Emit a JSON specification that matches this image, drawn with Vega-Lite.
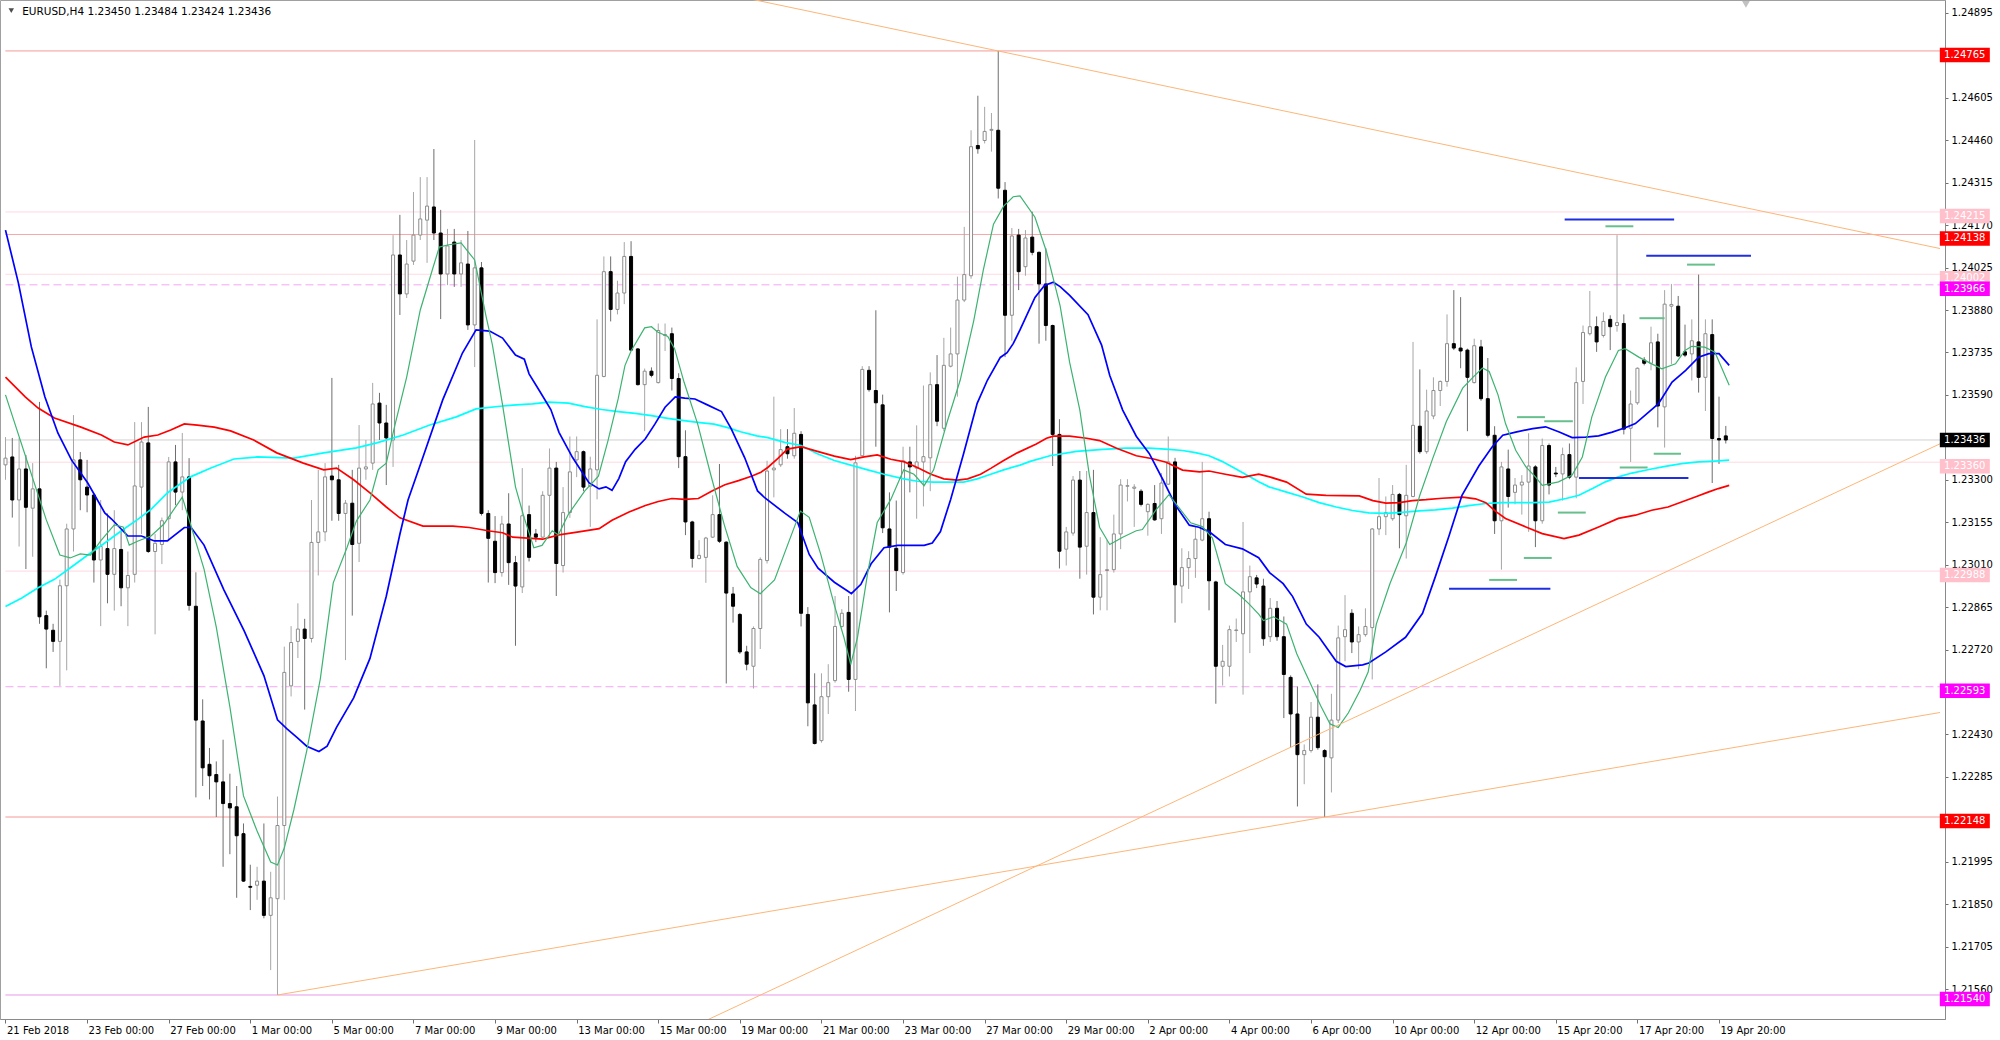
{
"$schema":"https://vega.github.io/schema/vega-lite/v6.json",
"width":1945,"height":1019,
"autosize":{"type":"none"},
"padding":{"left":0,"top":0,"right":55,"bottom":21},
"background":"white",
"config":{"view":{"stroke":"#a0a0a0","strokeWidth":1},"font":"DejaVu Sans",
"axis":{"labelFont":"DejaVu Sans","labelFontSize":10,"labelColor":"#000000","tickColor":"#707070","domainColor":"#8a8a8a","grid":false}},
"datasets":{
"levels":[{"p":1.24765,"t":"r"},{"p":1.24215,"t":"p"},{"p":1.24138,"t":"r"},{"p":1.24002,"t":"p"},{"p":1.23966,"t":"d"},{"p":1.23436,"t":"b"},{"p":1.2336,"t":"p"},{"p":1.22988,"t":"p"},{"p":1.22593,"t":"d"},{"p":1.22148,"t":"r"},{"p":1.2154,"t":"m"}],
"candles":[
{"i":0,"o":1.23351,"h":1.23446,"l":1.23300,"c":1.23374},
{"i":1,"o":1.23378,"h":1.23443,"l":1.23171,"c":1.23231},
{"i":2,"o":1.23231,"h":1.23443,"l":1.23072,"c":1.23337},
{"i":3,"o":1.23337,"h":1.23385,"l":1.22995,"c":1.23206},
{"i":4,"o":1.23203,"h":1.23357,"l":1.23037,"c":1.23269},
{"i":5,"o":1.23269,"h":1.23566,"l":1.22808,"c":1.22832},
{"i":6,"o":1.22836,"h":1.22853,"l":1.22656,"c":1.22790},
{"i":7,"o":1.22786,"h":1.22808,"l":1.22712,"c":1.22748},
{"i":8,"o":1.22748,"h":1.22959,"l":1.22596,"c":1.22938},
{"i":9,"o":1.22938,"h":1.23150,"l":1.22649,"c":1.23132},
{"i":10,"o":1.23132,"h":1.23521,"l":1.23055,"c":1.23368},
{"i":11,"o":1.23368,"h":1.23395,"l":1.23196,"c":1.23300},
{"i":12,"o":1.23275,"h":1.23368,"l":1.23189,"c":1.23248},
{"i":13,"o":1.23248,"h":1.23255,"l":1.22949,"c":1.23026},
{"i":14,"o":1.23026,"h":1.23231,"l":1.22800,"c":1.23072},
{"i":15,"o":1.23065,"h":1.23185,"l":1.22878,"c":1.22977},
{"i":16,"o":1.22977,"h":1.23196,"l":1.22853,"c":1.23065},
{"i":17,"o":1.23062,"h":1.23125,"l":1.22868,"c":1.22931},
{"i":18,"o":1.22931,"h":1.23055,"l":1.22800,"c":1.22973},
{"i":19,"o":1.22977,"h":1.23497,"l":1.22949,"c":1.23279},
{"i":20,"o":1.23275,"h":1.23497,"l":1.23115,"c":1.23429},
{"i":21,"o":1.23426,"h":1.23549,"l":1.23050,"c":1.23055},
{"i":22,"o":1.23055,"h":1.23115,"l":1.22772,"c":1.23083},
{"i":23,"o":1.23079,"h":1.23171,"l":1.23012,"c":1.23160},
{"i":24,"o":1.23167,"h":1.23378,"l":1.23090,"c":1.23361},
{"i":25,"o":1.23361,"h":1.23419,"l":1.23213,"c":1.23258},
{"i":26,"o":1.23258,"h":1.23460,"l":1.23196,"c":1.23310},
{"i":27,"o":1.23310,"h":1.23374,"l":1.22853,"c":1.22871},
{"i":28,"o":1.22868,"h":1.22984,"l":1.22215,"c":1.22479},
{"i":29,"o":1.22476,"h":1.22550,"l":1.22254,"c":1.22316},
{"i":30,"o":1.22328,"h":1.22384,"l":1.22208,"c":1.22289},
{"i":31,"o":1.22293,"h":1.22338,"l":1.22148,"c":1.22268},
{"i":32,"o":1.22268,"h":1.22412,"l":1.21978,"c":1.22194},
{"i":33,"o":1.22194,"h":1.22296,"l":1.22021,"c":1.22179},
{"i":34,"o":1.22183,"h":1.22254,"l":1.21872,"c":1.22084},
{"i":35,"o":1.22091,"h":1.22126,"l":1.21926,"c":1.21929},
{"i":36,"o":1.21911,"h":1.21985,"l":1.21830,"c":1.21908},
{"i":37,"o":1.21915,"h":1.21978,"l":1.21865,"c":1.21929},
{"i":38,"o":1.21929,"h":1.22126,"l":1.21802,"c":1.21812},
{"i":39,"o":1.21812,"h":1.21961,"l":1.21625,"c":1.21872},
{"i":40,"o":1.21869,"h":1.22218,"l":1.21540,"c":1.22119},
{"i":41,"o":1.22119,"h":1.22730,"l":1.21865,"c":1.22642},
{"i":42,"o":1.22596,"h":1.22800,"l":1.22560,"c":1.22744},
{"i":43,"o":1.22748,"h":1.22878,"l":1.22691,"c":1.22790},
{"i":44,"o":1.22790,"h":1.22825,"l":1.22515,"c":1.22758},
{"i":45,"o":1.22758,"h":1.23231,"l":1.22744,"c":1.23086},
{"i":46,"o":1.23086,"h":1.23334,"l":1.22973,"c":1.23122},
{"i":47,"o":1.23122,"h":1.23357,"l":1.23090,"c":1.23310},
{"i":48,"o":1.23313,"h":1.23648,"l":1.23160,"c":1.23300},
{"i":49,"o":1.23300,"h":1.23351,"l":1.23160,"c":1.23185},
{"i":50,"o":1.23185,"h":1.23231,"l":1.22684,"c":1.23220},
{"i":51,"o":1.23220,"h":1.23334,"l":1.22836,"c":1.23079},
{"i":52,"o":1.23083,"h":1.23487,"l":1.23019,"c":1.23340},
{"i":53,"o":1.23337,"h":1.23436,"l":1.23300,"c":1.23344},
{"i":54,"o":1.23357,"h":1.23631,"l":1.23334,"c":1.23559},
{"i":55,"o":1.23562,"h":1.23597,"l":1.23436,"c":1.23494},
{"i":56,"o":1.23494,"h":1.23556,"l":1.23282,"c":1.23443},
{"i":57,"o":1.23436,"h":1.24136,"l":1.23344,"c":1.24068},
{"i":58,"o":1.24068,"h":1.24205,"l":1.23863,"c":1.23935},
{"i":59,"o":1.23935,"h":1.24119,"l":1.23921,"c":1.24037},
{"i":60,"o":1.24047,"h":1.24283,"l":1.24034,"c":1.24136},
{"i":61,"o":1.24136,"h":1.24334,"l":1.24119,"c":1.24191},
{"i":62,"o":1.24187,"h":1.24334,"l":1.24041,"c":1.24235},
{"i":63,"o":1.24232,"h":1.24430,"l":1.24119,"c":1.24143},
{"i":64,"o":1.24143,"h":1.24222,"l":1.23849,"c":1.24003},
{"i":65,"o":1.24003,"h":1.24157,"l":1.23965,"c":1.24099},
{"i":66,"o":1.24112,"h":1.24157,"l":1.23959,"c":1.24003},
{"i":67,"o":1.24003,"h":1.24119,"l":1.23959,"c":1.24041},
{"i":68,"o":1.24037,"h":1.24150,"l":1.23812,"c":1.23829},
{"i":69,"o":1.23829,"h":1.24461,"l":1.23685,"c":1.24024},
{"i":70,"o":1.24024,"h":1.24044,"l":1.23178,"c":1.23185},
{"i":71,"o":1.23185,"h":1.23196,"l":1.22949,"c":1.23100},
{"i":72,"o":1.23090,"h":1.23176,"l":1.22947,"c":1.22983},
{"i":73,"o":1.22983,"h":1.23177,"l":1.22969,"c":1.23149},
{"i":74,"o":1.23149,"h":1.23254,"l":1.22941,"c":1.23017},
{"i":75,"o":1.23017,"h":1.23040,"l":1.22733,"c":1.22937},
{"i":76,"o":1.22934,"h":1.23340,"l":1.22913,"c":1.23177},
{"i":77,"o":1.23181,"h":1.23212,"l":1.23021,"c":1.23035},
{"i":78,"o":1.23115,"h":1.23132,"l":1.23087,"c":1.23104},
{"i":79,"o":1.23104,"h":1.23261,"l":1.23101,"c":1.23247},
{"i":80,"o":1.23247,"h":1.23407,"l":1.23104,"c":1.23340},
{"i":81,"o":1.23340,"h":1.23361,"l":1.22903,"c":1.23014},
{"i":82,"o":1.23007,"h":1.23275,"l":1.22983,"c":1.23188},
{"i":83,"o":1.23188,"h":1.23448,"l":1.23170,"c":1.23327},
{"i":84,"o":1.23368,"h":1.23448,"l":1.23309,"c":1.23396},
{"i":85,"o":1.23396,"h":1.23400,"l":1.23261,"c":1.23275},
{"i":86,"o":1.23278,"h":1.23379,"l":1.23139,"c":1.23337},
{"i":87,"o":1.23334,"h":1.23848,"l":1.23233,"c":1.23657},
{"i":88,"o":1.23653,"h":1.24063,"l":1.23650,"c":1.24011},
{"i":89,"o":1.24011,"h":1.24063,"l":1.23841,"c":1.23882},
{"i":90,"o":1.23882,"h":1.23980,"l":1.23865,"c":1.23938},
{"i":91,"o":1.23938,"h":1.24112,"l":1.23900,"c":1.24063},
{"i":92,"o":1.24063,"h":1.24115,"l":1.23740,"c":1.23743},
{"i":93,"o":1.23747,"h":1.23750,"l":1.23622,"c":1.23625},
{"i":94,"o":1.23625,"h":1.23680,"l":1.23466,"c":1.23671},
{"i":95,"o":1.23671,"h":1.23684,"l":1.23650,"c":1.23657},
{"i":96,"o":1.23632,"h":1.23834,"l":1.23629,"c":1.23810},
{"i":97,"o":1.23793,"h":1.23834,"l":1.23740,"c":1.23796},
{"i":98,"o":1.23799,"h":1.23820,"l":1.23605,"c":1.23646},
{"i":99,"o":1.23646,"h":1.23664,"l":1.23340,"c":1.23379},
{"i":100,"o":1.23379,"h":1.23469,"l":1.23111,"c":1.23156},
{"i":101,"o":1.23156,"h":1.23160,"l":1.23000,"c":1.23031},
{"i":102,"o":1.23031,"h":1.23094,"l":1.23028,"c":1.23042},
{"i":103,"o":1.23035,"h":1.23105,"l":1.22948,"c":1.23101},
{"i":104,"o":1.23104,"h":1.23247,"l":1.23101,"c":1.23181},
{"i":105,"o":1.23181,"h":1.23354,"l":1.23084,"c":1.23090},
{"i":106,"o":1.23087,"h":1.23090,"l":1.22604,"c":1.22913},
{"i":107,"o":1.22910,"h":1.22934,"l":1.22812,"c":1.22868},
{"i":108,"o":1.22840,"h":1.22845,"l":1.22705,"c":1.22712},
{"i":109,"o":1.22712,"h":1.22733,"l":1.22649,"c":1.22670},
{"i":110,"o":1.22663,"h":1.22799,"l":1.22587,"c":1.22792},
{"i":111,"o":1.22792,"h":1.23035,"l":1.22722,"c":1.23028},
{"i":112,"o":1.23024,"h":1.23365,"l":1.23014,"c":1.23330},
{"i":113,"o":1.23334,"h":1.23584,"l":1.23240,"c":1.23340},
{"i":114,"o":1.23351,"h":1.23473,"l":1.23344,"c":1.23403},
{"i":115,"o":1.23413,"h":1.23473,"l":1.23372,"c":1.23389},
{"i":116,"o":1.23382,"h":1.23545,"l":1.23372,"c":1.23459},
{"i":117,"o":1.23455,"h":1.23466,"l":1.22799,"c":1.22844},
{"i":118,"o":1.22840,"h":1.22865,"l":1.22458,"c":1.22538},
{"i":119,"o":1.22531,"h":1.22639,"l":1.22396,"c":1.22399},
{"i":120,"o":1.22409,"h":1.22639,"l":1.22402,"c":1.22559},
{"i":121,"o":1.22559,"h":1.22670,"l":1.22500,"c":1.22607},
{"i":122,"o":1.22614,"h":1.22903,"l":1.22607,"c":1.22799},
{"i":123,"o":1.22799,"h":1.22858,"l":1.22795,"c":1.22844},
{"i":124,"o":1.22847,"h":1.22903,"l":1.22576,"c":1.22618},
{"i":125,"o":1.22618,"h":1.23382,"l":1.22510,"c":1.23358},
{"i":126,"o":1.23382,"h":1.23688,"l":1.23379,"c":1.23677},
{"i":127,"o":1.23674,"h":1.23688,"l":1.23601,"c":1.23608},
{"i":128,"o":1.23605,"h":1.23879,"l":1.23413,"c":1.23563},
{"i":129,"o":1.23556,"h":1.23591,"l":1.23118,"c":1.23136},
{"i":130,"o":1.23132,"h":1.23257,"l":1.22847,"c":1.23070},
{"i":131,"o":1.23066,"h":1.23229,"l":1.22920,"c":1.22990},
{"i":132,"o":1.22983,"h":1.23413,"l":1.22976,"c":1.23365},
{"i":133,"o":1.23361,"h":1.23413,"l":1.23257,"c":1.23344},
{"i":134,"o":1.23340,"h":1.23486,"l":1.23167,"c":1.23361},
{"i":135,"o":1.23361,"h":1.23622,"l":1.23209,"c":1.23379},
{"i":136,"o":1.23375,"h":1.23667,"l":1.23261,"c":1.23625},
{"i":137,"o":1.23625,"h":1.23726,"l":1.23483,"c":1.23500},
{"i":138,"o":1.23476,"h":1.23785,"l":1.23466,"c":1.23691},
{"i":139,"o":1.23688,"h":1.23820,"l":1.23684,"c":1.23730},
{"i":140,"o":1.23730,"h":1.23994,"l":1.23584,"c":1.23914},
{"i":141,"o":1.23914,"h":1.24164,"l":1.23907,"c":1.24001},
{"i":142,"o":1.23997,"h":1.24494,"l":1.23987,"c":1.24438},
{"i":143,"o":1.24442,"h":1.24612,"l":1.24414,"c":1.24431},
{"i":144,"o":1.24459,"h":1.24574,"l":1.24449,"c":1.24490},
{"i":145,"o":1.24494,"h":1.24553,"l":1.24421,"c":1.24497},
{"i":146,"o":1.24494,"h":1.24765,"l":1.24261,"c":1.24296},
{"i":147,"o":1.24289,"h":1.24317,"l":1.23719,"c":1.23862},
{"i":148,"o":1.23862,"h":1.24160,"l":1.23775,"c":1.24133},
{"i":149,"o":1.24136,"h":1.24157,"l":1.23948,"c":1.24011},
{"i":150,"o":1.24028,"h":1.24153,"l":1.23997,"c":1.24126},
{"i":151,"o":1.24129,"h":1.24216,"l":1.24067,"c":1.24077},
{"i":152,"o":1.24077,"h":1.24080,"l":1.23765,"c":1.23969},
{"i":153,"o":1.23969,"h":1.24091,"l":1.23775,"c":1.23827},
{"i":154,"o":1.23827,"h":1.23830,"l":1.23347,"c":1.23455},
{"i":155,"o":1.23455,"h":1.23507,"l":1.22997,"c":1.23056},
{"i":156,"o":1.23063,"h":1.23139,"l":1.23007,"c":1.23122},
{"i":157,"o":1.23118,"h":1.23313,"l":1.23109,"c":1.23299},
{"i":158,"o":1.23299,"h":1.23330,"l":1.22962,"c":1.23070},
{"i":159,"o":1.23073,"h":1.23330,"l":1.22976,"c":1.23188},
{"i":160,"o":1.23188,"h":1.23334,"l":1.22840,"c":1.22899},
{"i":161,"o":1.22899,"h":1.23104,"l":1.22854,"c":1.22976},
{"i":162,"o":1.22990,"h":1.23094,"l":1.22854,"c":1.22993},
{"i":163,"o":1.22993,"h":1.23181,"l":1.22983,"c":1.23115},
{"i":164,"o":1.23115,"h":1.23302,"l":1.23063,"c":1.23282},
{"i":165,"o":1.23278,"h":1.23302,"l":1.23226,"c":1.23280},
{"i":166,"o":1.23271,"h":1.23285,"l":1.23139,"c":1.23275},
{"i":167,"o":1.23261,"h":1.23268,"l":1.23209,"c":1.23216},
{"i":168,"o":1.23191,"h":1.23220,"l":1.23109,"c":1.23216},
{"i":169,"o":1.23219,"h":1.23282,"l":1.23160,"c":1.23163},
{"i":170,"o":1.23167,"h":1.23323,"l":1.23115,"c":1.23289},
{"i":171,"o":1.23285,"h":1.23448,"l":1.23282,"c":1.23361},
{"i":172,"o":1.23361,"h":1.23375,"l":1.22812,"c":1.22941},
{"i":173,"o":1.22937,"h":1.23066,"l":1.22878,"c":1.23000},
{"i":174,"o":1.23000,"h":1.23056,"l":1.22927,"c":1.23031},
{"i":175,"o":1.23031,"h":1.23139,"l":1.22965,"c":1.23097},
{"i":176,"o":1.23094,"h":1.23361,"l":1.23090,"c":1.23167},
{"i":177,"o":1.23167,"h":1.23191,"l":1.22854,"c":1.22955},
{"i":178,"o":1.22951,"h":1.22955,"l":1.22535,"c":1.22663},
{"i":179,"o":1.22663,"h":1.22736,"l":1.22597,"c":1.22680},
{"i":180,"o":1.22663,"h":1.22802,"l":1.22628,"c":1.22788},
{"i":181,"o":1.22785,"h":1.22826,"l":1.22746,"c":1.22787},
{"i":182,"o":1.22774,"h":1.23156,"l":1.22566,"c":1.22917},
{"i":183,"o":1.22917,"h":1.23007,"l":1.22708,"c":1.22969},
{"i":184,"o":1.22965,"h":1.22975,"l":1.22930,"c":1.22944},
{"i":185,"o":1.22937,"h":1.22962,"l":1.22733,"c":1.22757},
{"i":186,"o":1.22764,"h":1.22896,"l":1.22746,"c":1.22861},
{"i":187,"o":1.22861,"h":1.22886,"l":1.22750,"c":1.22764},
{"i":188,"o":1.22764,"h":1.22833,"l":1.22486,"c":1.22635},
{"i":189,"o":1.22625,"h":1.22632,"l":1.22385,"c":1.22500},
{"i":190,"o":1.22500,"h":1.22594,"l":1.22184,"c":1.22361},
{"i":191,"o":1.22361,"h":1.22396,"l":1.22260,"c":1.22375},
{"i":192,"o":1.22375,"h":1.22541,"l":1.22368,"c":1.22489},
{"i":193,"o":1.22489,"h":1.22601,"l":1.22378,"c":1.22385},
{"i":194,"o":1.22375,"h":1.22380,"l":1.22148,"c":1.22354},
{"i":195,"o":1.22350,"h":1.22569,"l":1.22232,"c":1.22479},
{"i":196,"o":1.22479,"h":1.22802,"l":1.22469,"c":1.22760},
{"i":197,"o":1.22764,"h":1.22906,"l":1.22680,"c":1.22788},
{"i":198,"o":1.22844,"h":1.22858,"l":1.22708,"c":1.22746},
{"i":199,"o":1.22746,"h":1.22799,"l":1.22653,"c":1.22771},
{"i":200,"o":1.22771,"h":1.22861,"l":1.22764,"c":1.22799},
{"i":201,"o":1.22795,"h":1.23135,"l":1.22618,"c":1.23132},
{"i":202,"o":1.23132,"h":1.23306,"l":1.23111,"c":1.23174},
{"i":203,"o":1.23174,"h":1.23243,"l":1.23111,"c":1.23188},
{"i":204,"o":1.23167,"h":1.23282,"l":1.23160,"c":1.23250},
{"i":205,"o":1.23250,"h":1.23255,"l":1.23066,"c":1.23181},
{"i":206,"o":1.23177,"h":1.23351,"l":1.23031,"c":1.23247},
{"i":207,"o":1.23243,"h":1.23771,"l":1.23240,"c":1.23486},
{"i":208,"o":1.23483,"h":1.23677,"l":1.23389,"c":1.23396},
{"i":209,"o":1.23396,"h":1.23608,"l":1.23389,"c":1.23535},
{"i":210,"o":1.23518,"h":1.23650,"l":1.23507,"c":1.23605},
{"i":211,"o":1.23605,"h":1.23639,"l":1.23552,"c":1.23636},
{"i":212,"o":1.23636,"h":1.23865,"l":1.23618,"c":1.23765},
{"i":213,"o":1.23765,"h":1.23948,"l":1.23743,"c":1.23750},
{"i":214,"o":1.23750,"h":1.23924,"l":1.23681,"c":1.23740},
{"i":215,"o":1.23743,"h":1.23748,"l":1.23466,"c":1.23650},
{"i":216,"o":1.23632,"h":1.23782,"l":1.23629,"c":1.23758},
{"i":217,"o":1.23754,"h":1.23778,"l":1.23570,"c":1.23577},
{"i":218,"o":1.23577,"h":1.23716,"l":1.23445,"c":1.23452},
{"i":219,"o":1.23452,"h":1.23483,"l":1.23115,"c":1.23160},
{"i":220,"o":1.23160,"h":1.23361,"l":1.22993,"c":1.23344},
{"i":221,"o":1.23337,"h":1.23403,"l":1.23205,"c":1.23243},
{"i":222,"o":1.23257,"h":1.23306,"l":1.23216,"c":1.23282},
{"i":223,"o":1.23282,"h":1.23316,"l":1.23181,"c":1.23292},
{"i":224,"o":1.23292,"h":1.23459,"l":1.23122,"c":1.23347},
{"i":225,"o":1.23344,"h":1.23350,"l":1.23070,"c":1.23160},
{"i":226,"o":1.23160,"h":1.23441,"l":1.23150,"c":1.23417},
{"i":227,"o":1.23417,"h":1.23424,"l":1.23250,"c":1.23282},
{"i":228,"o":1.23323,"h":1.23344,"l":1.23309,"c":1.23320},
{"i":229,"o":1.23320,"h":1.23410,"l":1.23229,"c":1.23386},
{"i":230,"o":1.23386,"h":1.23424,"l":1.23302,"c":1.23309},
{"i":231,"o":1.23309,"h":1.23684,"l":1.23237,"c":1.23632},
{"i":232,"o":1.23636,"h":1.23827,"l":1.23559,"c":1.23803},
{"i":233,"o":1.23799,"h":1.23945,"l":1.23793,"c":1.23823},
{"i":234,"o":1.23823,"h":1.23858,"l":1.23737,"c":1.23771},
{"i":235,"o":1.23793,"h":1.23872,"l":1.23786,"c":1.23841},
{"i":236,"o":1.23848,"h":1.23862,"l":1.23743,"c":1.23823},
{"i":237,"o":1.23827,"h":1.24136,"l":1.23806,"c":1.23837},
{"i":238,"o":1.23834,"h":1.23865,"l":1.23455,"c":1.23473},
{"i":239,"o":1.23476,"h":1.23605,"l":1.23361,"c":1.23559},
{"i":240,"o":1.23563,"h":1.23684,"l":1.23556,"c":1.23681},
{"i":241,"o":1.23709,"h":1.23719,"l":1.23691,"c":1.23698},
{"i":242,"o":1.23698,"h":1.23823,"l":1.23674,"c":1.23768},
{"i":243,"o":1.23771,"h":1.23799,"l":1.23479,"c":1.23552},
{"i":244,"o":1.23549,"h":1.23948,"l":1.23410,"c":1.23900},
{"i":245,"o":1.23893,"h":1.23969,"l":1.23695,"c":1.23899},
{"i":246,"o":1.23893,"h":1.23928,"l":1.23719,"c":1.23723},
{"i":247,"o":1.23737,"h":1.23830,"l":1.23719,"c":1.23726},
{"i":248,"o":1.23730,"h":1.23848,"l":1.23639,"c":1.23775},
{"i":249,"o":1.23771,"h":1.24001,"l":1.23598,"c":1.23650},
{"i":250,"o":1.23650,"h":1.23848,"l":1.23535,"c":1.23799},
{"i":251,"o":1.23796,"h":1.23848,"l":1.23289,"c":1.23441},
{"i":252,"o":1.23441,"h":1.23584,"l":1.23354,"c":1.23436},
{"i":253,"o":1.23450,"h":1.23484,"l":1.23424,"c":1.23436}
],
"green":[{"i":0,"v":1.23590},{"i":6,"v":1.23163},{"i":8,"v":1.23043},{"i":9.5,"v":1.23033},{"i":11,"v":1.23047},{"i":12.5,"v":1.23043},{"i":14,"v":1.23091},{"i":16,"v":1.23146},{"i":17.3,"v":1.23139},{"i":18.2,"v":1.23077},{"i":19.5,"v":1.23091},{"i":21.4,"v":1.23108},{"i":23.3,"v":1.23149},{"i":26,"v":1.23241},{"i":27.2,"v":1.23149},{"i":29.2,"v":1.22995},{"i":31,"v":1.22797},{"i":33,"v":1.22524},{"i":35,"v":1.22220},{"i":37,"v":1.22100},{"i":39,"v":1.21994},{"i":40,"v":1.21984},{"i":41,"v":1.22042},{"i":42.4,"v":1.22172},{"i":44.3,"v":1.22374},{"i":46.3,"v":1.22620},{"i":48.2,"v":1.22948},{"i":50.2,"v":1.23067},{"i":51.6,"v":1.23159},{"i":53.6,"v":1.23231},{"i":54.8,"v":1.23334},{"i":56,"v":1.23357},{"i":57.2,"v":1.23480},{"i":59,"v":1.23651},{"i":61,"v":1.23880},{"i":62.9,"v":1.24027},{"i":63.8,"v":1.24095},{"i":65,"v":1.24102},{"i":67,"v":1.24109},{"i":69,"v":1.24051},{"i":70.7,"v":1.23856},{"i":71.6,"v":1.23762},{"i":73.1,"v":1.23556},{"i":75,"v":1.23276},{"i":76.3,"v":1.23169},{"i":77.7,"v":1.23068},{"i":78.9,"v":1.23076},{"i":80.4,"v":1.23126},{"i":81.3,"v":1.23112},{"i":82.8,"v":1.23183},{"i":85.2,"v":1.23262},{"i":87.2,"v":1.23312},{"i":88.6,"v":1.23433},{"i":90.1,"v":1.23576},{"i":91.1,"v":1.23690},{"i":92,"v":1.23740},{"i":94,"v":1.23819},{"i":95,"v":1.23823},{"i":95.9,"v":1.23805},{"i":97.4,"v":1.23790},{"i":98.4,"v":1.23748},{"i":99.8,"v":1.23633},{"i":101.8,"v":1.23490},{"i":103.7,"v":1.23319},{"i":105.7,"v":1.23147},{"i":107.6,"v":1.23004},{"i":109.6,"v":1.22932},{"i":111,"v":1.22911},{"i":113.1,"v":1.22958},{"i":115,"v":1.23076},{"i":116.9,"v":1.23193},{"i":118.2,"v":1.23172},{"i":119.9,"v":1.23045},{"i":121.9,"v":1.22872},{"i":123.3,"v":1.22762},{"i":124.3,"v":1.22669},{"i":125.3,"v":1.22762},{"i":126.8,"v":1.22982},{"i":128.2,"v":1.23154},{"i":130.2,"v":1.23233},{"i":132.1,"v":1.23334},{"i":133.6,"v":1.23319},{"i":135.1,"v":1.23280},{"i":136.5,"v":1.23334},{"i":138.5,"v":1.23499},{"i":140.4,"v":1.23640},{"i":142.4,"v":1.23844},{"i":143.8,"v":1.24016},{"i":145.3,"v":1.24173},{"i":146.8,"v":1.24235},{"i":148.2,"v":1.24267},{"i":149.2,"v":1.24270},{"i":151.4,"v":1.24197},{"i":153.1,"v":1.24079},{"i":155.1,"v":1.23894},{"i":156.5,"v":1.23701},{"i":158,"v":1.23538},{"i":159.4,"v":1.23316},{"i":160.9,"v":1.23138},{"i":162.4,"v":1.23079},{"i":164.3,"v":1.23104},{"i":166.3,"v":1.23126},{"i":167.2,"v":1.23130},{"i":169.2,"v":1.23197},{"i":171.1,"v":1.23249},{"i":172.6,"v":1.23204},{"i":174.3,"v":1.23153},{"i":176,"v":1.23140},{"i":177.5,"v":1.23101},{"i":179.4,"v":1.22945},{"i":181.4,"v":1.22908},{"i":182.8,"v":1.22878},{"i":184.3,"v":1.22841},{"i":185,"v":1.22819},{"i":186.5,"v":1.22832},{"i":188.4,"v":1.22807},{"i":189.9,"v":1.22706},{"i":191.4,"v":1.22630},{"i":193.4,"v":1.22529},{"i":194.8,"v":1.22466},{"i":196,"v":1.22454},{"i":197.5,"v":1.22504},{"i":199.2,"v":1.22580},{"i":200.4,"v":1.22643},{"i":201.6,"v":1.22807},{"i":203.6,"v":1.22945},{"i":206,"v":1.23084},{"i":208,"v":1.23247},{"i":209.9,"v":1.23373},{"i":211.9,"v":1.23499},{"i":214.3,"v":1.23613},{"i":215.8,"v":1.23650},{"i":217.2,"v":1.23682},{"i":218.2,"v":1.23670},{"i":219.5,"v":1.23590},{"i":220.6,"v":1.23492},{"i":222.1,"v":1.23401},{"i":223.6,"v":1.23344},{"i":225,"v":1.23310},{"i":226,"v":1.23281},{"i":228.4,"v":1.23293},{"i":230.4,"v":1.23316},{"i":231.9,"v":1.23378},{"i":233.3,"v":1.23515},{"i":235.3,"v":1.23651},{"i":237.2,"v":1.23742},{"i":238.2,"v":1.23748},{"i":240.2,"v":1.23719},{"i":242.1,"v":1.23696},{"i":243.6,"v":1.23679},{"i":245.6,"v":1.23696},{"i":247,"v":1.23742},{"i":248,"v":1.23756},{"i":249.9,"v":1.23753},{"i":251.4,"v":1.23736},{"i":253.5,"v":1.23623}],
"blue":[{"i":0,"v":1.24153},{"i":1.9,"v":1.23972},{"i":3.8,"v":1.23754},{"i":5.8,"v":1.23583},{"i":7.7,"v":1.23460},{"i":9.7,"v":1.23368},{"i":12.1,"v":1.23289},{"i":14.6,"v":1.23187},{"i":15.6,"v":1.23166},{"i":18,"v":1.23108},{"i":20,"v":1.23108},{"i":21.9,"v":1.23091},{"i":23.8,"v":1.23091},{"i":26.3,"v":1.23137},{"i":27.3,"v":1.23137},{"i":29.2,"v":1.23077},{"i":32.1,"v":1.22925},{"i":35.1,"v":1.22784},{"i":38,"v":1.22631},{"i":40,"v":1.22480},{"i":41.4,"v":1.22449},{"i":42.9,"v":1.22419},{"i":44.3,"v":1.22390},{"i":46.1,"v":1.22372},{"i":47.3,"v":1.22390},{"i":48.7,"v":1.22455},{"i":51.2,"v":1.22555},{"i":53.6,"v":1.22690},{"i":56,"v":1.22902},{"i":58,"v":1.23114},{"i":59.2,"v":1.23231},{"i":61.4,"v":1.23378},{"i":64.3,"v":1.23573},{"i":67.2,"v":1.23733},{"i":69.2,"v":1.23812},{"i":71.2,"v":1.23808},{"i":73.1,"v":1.23784},{"i":75,"v":1.23726},{"i":76.3,"v":1.23712},{"i":77,"v":1.23662},{"i":78.5,"v":1.23605},{"i":80.2,"v":1.23540},{"i":81.4,"v":1.23462},{"i":83.4,"v":1.23376},{"i":85.8,"v":1.23290},{"i":87.3,"v":1.23269},{"i":88.3,"v":1.23276},{"i":89.2,"v":1.23264},{"i":90.2,"v":1.23304},{"i":91.2,"v":1.23362},{"i":92.6,"v":1.23404},{"i":94.1,"v":1.23440},{"i":95.5,"v":1.23490},{"i":97,"v":1.23548},{"i":98.5,"v":1.23583},{"i":99.9,"v":1.23579},{"i":101.4,"v":1.23576},{"i":103.3,"v":1.23555},{"i":105.3,"v":1.23533},{"i":106.7,"v":1.23476},{"i":108.7,"v":1.23376},{"i":110.6,"v":1.23262},{"i":111.6,"v":1.23240},{"i":114.6,"v":1.23186},{"i":116.5,"v":1.23154},{"i":118.2,"v":1.23045},{"i":119.5,"v":1.22998},{"i":121.9,"v":1.22950},{"i":123.9,"v":1.22919},{"i":124.4,"v":1.22911},{"i":125.8,"v":1.22943},{"i":127.3,"v":1.23013},{"i":129.2,"v":1.23068},{"i":131.2,"v":1.23076},{"i":133.1,"v":1.23076},{"i":135.1,"v":1.23076},{"i":136.3,"v":1.23084},{"i":137.5,"v":1.23123},{"i":139,"v":1.23233},{"i":140.9,"v":1.23389},{"i":142.9,"v":1.23561},{"i":144.4,"v":1.23640},{"i":146.3,"v":1.23718},{"i":147.3,"v":1.23734},{"i":148.2,"v":1.23765},{"i":149.2,"v":1.23812},{"i":151.4,"v":1.23923},{"i":152.8,"v":1.23964},{"i":154.1,"v":1.23975},{"i":155.1,"v":1.23960},{"i":156.5,"v":1.23930},{"i":159.2,"v":1.23864},{"i":161.2,"v":1.23760},{"i":162.4,"v":1.23656},{"i":164.3,"v":1.23538},{"i":166.3,"v":1.23449},{"i":168.2,"v":1.23390},{"i":170.2,"v":1.23301},{"i":172.1,"v":1.23212},{"i":174.1,"v":1.23145},{"i":175.5,"v":1.23138},{"i":177,"v":1.23123},{"i":179.4,"v":1.23079},{"i":181.9,"v":1.23064},{"i":184.3,"v":1.23034},{"i":185.9,"v":1.22983},{"i":187.9,"v":1.22945},{"i":189.3,"v":1.22901},{"i":191.3,"v":1.22807},{"i":193.2,"v":1.22762},{"i":195.7,"v":1.22680},{"i":197.1,"v":1.22662},{"i":199.6,"v":1.22668},{"i":200.5,"v":1.22674},{"i":203,"v":1.22712},{"i":205.9,"v":1.22762},{"i":208.4,"v":1.22844},{"i":210.3,"v":1.22970},{"i":212.3,"v":1.23109},{"i":214.2,"v":1.23247},{"i":216.7,"v":1.23348},{"i":218.6,"v":1.23411},{"i":220.2,"v":1.23452},{"i":222.1,"v":1.23463},{"i":224.6,"v":1.23475},{"i":226.5,"v":1.23481},{"i":228.5,"v":1.23463},{"i":230.4,"v":1.23444},{"i":232.4,"v":1.23446},{"i":234.3,"v":1.23450},{"i":236.3,"v":1.23463},{"i":238.2,"v":1.23478},{"i":239.7,"v":1.23492},{"i":241.7,"v":1.23532},{"i":243.1,"v":1.23560},{"i":245.1,"v":1.23634},{"i":247.1,"v":1.23674},{"i":249,"v":1.23719},{"i":250.5,"v":1.23731},{"i":252,"v":1.23731},{"i":253.5,"v":1.23691}],
"red":[{"i":0,"v":1.23651},{"i":2.9,"v":1.23583},{"i":4.8,"v":1.23545},{"i":7.2,"v":1.23511},{"i":11.1,"v":1.23480},{"i":14.1,"v":1.23453},{"i":16,"v":1.23429},{"i":18,"v":1.23419},{"i":20.4,"v":1.23446},{"i":22.4,"v":1.23453},{"i":24.3,"v":1.23470},{"i":26.3,"v":1.23491},{"i":28.2,"v":1.23487},{"i":30.7,"v":1.23480},{"i":33.1,"v":1.23467},{"i":36.5,"v":1.23436},{"i":39.9,"v":1.23392},{"i":43.8,"v":1.23357},{"i":46.8,"v":1.23334},{"i":48.7,"v":1.23340},{"i":51.2,"v":1.23300},{"i":53.6,"v":1.23255},{"i":56,"v":1.23207},{"i":58,"v":1.23170},{"i":61.4,"v":1.23142},{"i":65.8,"v":1.23142},{"i":68.2,"v":1.23137},{"i":71.2,"v":1.23125},{"i":73.1,"v":1.23119},{"i":74.6,"v":1.23104},{"i":79,"v":1.23097},{"i":81.4,"v":1.23112},{"i":84.3,"v":1.23122},{"i":87.3,"v":1.23133},{"i":89.2,"v":1.23162},{"i":91.7,"v":1.23190},{"i":94.1,"v":1.23212},{"i":96,"v":1.23226},{"i":98,"v":1.23236},{"i":99.9,"v":1.23233},{"i":101.9,"v":1.23236},{"i":103.9,"v":1.23262},{"i":105.8,"v":1.23283},{"i":107.8,"v":1.23297},{"i":109.7,"v":1.23312},{"i":111.1,"v":1.23326},{"i":112.1,"v":1.23342},{"i":113.6,"v":1.23373},{"i":115,"v":1.23405},{"i":117,"v":1.23413},{"i":119.4,"v":1.23397},{"i":121.9,"v":1.23381},{"i":124.3,"v":1.23369},{"i":126.3,"v":1.23378},{"i":128.2,"v":1.23385},{"i":130.2,"v":1.23370},{"i":132.2,"v":1.23361},{"i":134.1,"v":1.23342},{"i":136.1,"v":1.23319},{"i":138,"v":1.23303},{"i":140,"v":1.23299},{"i":141.5,"v":1.23303},{"i":143.4,"v":1.23319},{"i":144.9,"v":1.23339},{"i":146.8,"v":1.23366},{"i":148.8,"v":1.23392},{"i":151.6,"v":1.23422},{"i":153.1,"v":1.23442},{"i":154.1,"v":1.23449},{"i":156.5,"v":1.23449},{"i":159,"v":1.23442},{"i":160.9,"v":1.23434},{"i":163.4,"v":1.23408},{"i":166.3,"v":1.23382},{"i":168.7,"v":1.23372},{"i":170.7,"v":1.23360},{"i":173.1,"v":1.23333},{"i":175.6,"v":1.23327},{"i":177,"v":1.23330},{"i":179.4,"v":1.23319},{"i":181.9,"v":1.23308},{"i":184.3,"v":1.23319},{"i":185.9,"v":1.23310},{"i":188.4,"v":1.23292},{"i":191.3,"v":1.23251},{"i":194.2,"v":1.23247},{"i":199.1,"v":1.23245},{"i":201.1,"v":1.23229},{"i":203,"v":1.23220},{"i":205,"v":1.23222},{"i":206.9,"v":1.23229},{"i":208.9,"v":1.23232},{"i":211.3,"v":1.23237},{"i":214.3,"v":1.23241},{"i":216.2,"v":1.23235},{"i":217.7,"v":1.23222},{"i":219.2,"v":1.23191},{"i":220.6,"v":1.23168},{"i":223.6,"v":1.23139},{"i":226,"v":1.23116},{"i":229.2,"v":1.23099},{"i":231.4,"v":1.23111},{"i":234.3,"v":1.23139},{"i":237.2,"v":1.23168},{"i":239.7,"v":1.23179},{"i":242.1,"v":1.23196},{"i":244.5,"v":1.23207},{"i":246.5,"v":1.23224},{"i":248.5,"v":1.23241},{"i":250.4,"v":1.23258},{"i":251.9,"v":1.23270},{"i":253.5,"v":1.23281}],
"cyan":[{"i":0,"v":1.22867},{"i":2.4,"v":1.22896},{"i":4.8,"v":1.22931},{"i":7.2,"v":1.22960},{"i":9.7,"v":1.23002},{"i":12.1,"v":1.23043},{"i":14.6,"v":1.23084},{"i":17,"v":1.23125},{"i":19.4,"v":1.23164},{"i":21.4,"v":1.23199},{"i":23.8,"v":1.23255},{"i":27.2,"v":1.23310},{"i":30.2,"v":1.23340},{"i":33.6,"v":1.23371},{"i":37,"v":1.23378},{"i":42.4,"v":1.23374},{"i":46.8,"v":1.23392},{"i":51.6,"v":1.23409},{"i":54.6,"v":1.23426},{"i":58.5,"v":1.23453},{"i":62.4,"v":1.23487},{"i":66.3,"v":1.23515},{"i":69.2,"v":1.23542},{"i":73.1,"v":1.23552},{"i":74.6,"v":1.23555},{"i":77.5,"v":1.23559},{"i":79.9,"v":1.23565},{"i":82.8,"v":1.23562},{"i":85.2,"v":1.23550},{"i":87.7,"v":1.23540},{"i":90.1,"v":1.23533},{"i":92.6,"v":1.23527},{"i":95,"v":1.23519},{"i":97.4,"v":1.23510},{"i":99.8,"v":1.23502},{"i":101.8,"v":1.23496},{"i":104.2,"v":1.23490},{"i":106.1,"v":1.23479},{"i":108.1,"v":1.23464},{"i":110.5,"v":1.23450},{"i":112.1,"v":1.23444},{"i":114.6,"v":1.23428},{"i":117,"v":1.23417},{"i":119.4,"v":1.23389},{"i":121.9,"v":1.23366},{"i":124.3,"v":1.23350},{"i":126.8,"v":1.23334},{"i":129.2,"v":1.23319},{"i":132.1,"v":1.23303},{"i":134.1,"v":1.23295},{"i":136.5,"v":1.23292},{"i":139,"v":1.23292},{"i":140.9,"v":1.23292},{"i":142.9,"v":1.23303},{"i":144.9,"v":1.23319},{"i":146.8,"v":1.23334},{"i":149.2,"v":1.23350},{"i":150.7,"v":1.23363},{"i":153.6,"v":1.23382},{"i":157.5,"v":1.23397},{"i":161.4,"v":1.23404},{"i":164.8,"v":1.23408},{"i":168.2,"v":1.23408},{"i":171.1,"v":1.23404},{"i":173.1,"v":1.23400},{"i":175,"v":1.23393},{"i":177,"v":1.23382},{"i":178.9,"v":1.23363},{"i":180.9,"v":1.23338},{"i":182.8,"v":1.23313},{"i":184.3,"v":1.23293},{"i":185.9,"v":1.23275},{"i":188.4,"v":1.23258},{"i":190.8,"v":1.23241},{"i":193.2,"v":1.23222},{"i":195.7,"v":1.23207},{"i":198.1,"v":1.23195},{"i":200.5,"v":1.23187},{"i":203,"v":1.23185},{"i":205.4,"v":1.23189},{"i":207.9,"v":1.23194},{"i":210.3,"v":1.23197},{"i":212.8,"v":1.23203},{"i":215.2,"v":1.23212},{"i":217.7,"v":1.23219},{"i":220.1,"v":1.23222},{"i":224.6,"v":1.23222},{"i":227,"v":1.23224},{"i":229.5,"v":1.23236},{"i":231.4,"v":1.23247},{"i":233.4,"v":1.23270},{"i":235.3,"v":1.23293},{"i":237.2,"v":1.23310},{"i":239.2,"v":1.23323},{"i":241.7,"v":1.23335},{"i":244.1,"v":1.23346},{"i":246.5,"v":1.23355},{"i":249,"v":1.23361},{"i":251.4,"v":1.23364},{"i":253.5,"v":1.23367}],
"bseg":[{"a":229.3,"b":245.4,"p":1.24189},{"a":241.3,"b":256.7,"p":1.24065},{"a":231.4,"b":247.5,"p":1.23306},{"a":212.3,"b":227.2,"p":1.22928}],
"gseg":[{"a":235.3,"b":239.4,"p":1.24166},{"a":247.3,"b":251.4,"p":1.24035},{"a":240.3,"b":244.0,"p":1.23852},{"a":222.3,"b":226.4,"p":1.23514},{"a":226.3,"b":230.5,"p":1.23500},{"a":242.4,"b":246.4,"p":1.23389},{"a":237.4,"b":241.5,"p":1.23342},{"a":228.3,"b":232.4,"p":1.23188},{"a":223.3,"b":227.4,"p":1.23033},{"a":218.2,"b":222.3,"p":1.22958}],
"trend":[{"id":1,"i":100,"p":1.24989},{"id":1,"i":284.5,"p":1.24090},{"id":2,"i":40,"p":1.21540},{"id":2,"i":284.5,"p":1.22505},{"id":3,"i":100,"p":1.21420},{"id":3,"i":284.5,"p":1.23423}]
},
"layer":[
{"data":{"name":"levels"},"mark":{"type":"rule","strokeWidth":1},
 "encoding":{
  "x":{"datum":0,"type":"quantitative","scale":{"domain":[-0.073,284.5],"nice":false,"zero":false},
   "axis":{"orient":"bottom","title":null,"values":[0,12,24,36,48,60,72,84,96,108,120,132,144,156,168,180,192,204,216,228,240,252],
    "labelExpr":"['21 Feb 2018','23 Feb 00:00','27 Feb 00:00','1 Mar 00:00','5 Mar 00:00','7 Mar 00:00','9 Mar 00:00','13 Mar 00:00','15 Mar 00:00','19 Mar 00:00','21 Mar 00:00','23 Mar 00:00','27 Mar 00:00','29 Mar 00:00','2 Apr 00:00','4 Apr 00:00','6 Apr 00:00','10 Apr 00:00','12 Apr 00:00','15 Apr 20:00','17 Apr 20:00','19 Apr 20:00'][round(datum.value/12)]",
    "labelAlign":"left","labelOffset":1,"labelPadding":2,"tickSize":4,"labelFlush":false,"labelOverlap":false,"labelBound":false}},
  "x2":{"datum":284.5},
  "y":{"field":"p","type":"quantitative","scale":{"domain":[1.21458,1.24939],"nice":false,"zero":false},
   "axis":{"orient":"right","title":null,"values":[1.24895,1.24605,1.2446,1.24315,1.2417,1.24025,1.2388,1.23735,1.2359,1.233,1.23155,1.2301,1.22865,1.2272,1.2243,1.22285,1.21995,1.2185,1.21705,1.2156],"format":".5f","tickSize":3,"labelPadding":3,"labelBaseline":"middle"}},
  "stroke":{"field":"t","type":"nominal","legend":null,"scale":{"domain":["r","p","d","m","b"],"range":["#F28A8A","#FFD3DC","#F4A6F4","#E58AE5","#C8C8C8"]}},
  "strokeDash":{"condition":{"test":"datum.t==='d'","value":[8,4]},"value":[1,0]}
 }},
{"data":{"name":"candles"},"mark":{"type":"rule","strokeWidth":1},
 "encoding":{"x":{"field":"i","type":"quantitative","title":null},"y":{"field":"l","type":"quantitative","title":null},"y2":{"field":"h"},
  "stroke":{"condition":{"test":"datum.c>datum.o","value":"#a6a6a6"},"value":"#6e6e6e"}}},
{"data":{"name":"candles"},"mark":{"type":"bar","size":3,"orient":"vertical","strokeWidth":1},
 "encoding":{"x":{"field":"i","type":"quantitative","title":null},"y":{"field":"o","type":"quantitative","title":null},"y2":{"field":"c"},
  "fill":{"condition":{"test":"datum.c>datum.o","value":"#ffffff"},"value":"#000000"},
  "stroke":{"condition":{"test":"datum.c>datum.o","value":"#8c8c8c"},"value":"#000000"}}},
{"data":{"name":"cyan"},"mark":{"type":"line","color":"#00FFFF","strokeWidth":1.7},
 "encoding":{"x":{"field":"i","type":"quantitative","title":null},"y":{"field":"v","type":"quantitative","title":null}}},
{"data":{"name":"red"},"mark":{"type":"line","color":"#FF0000","strokeWidth":1.7},
 "encoding":{"x":{"field":"i","type":"quantitative","title":null},"y":{"field":"v","type":"quantitative","title":null}}},
{"data":{"name":"blue"},"mark":{"type":"line","color":"#0000FF","strokeWidth":1.7},
 "encoding":{"x":{"field":"i","type":"quantitative","title":null},"y":{"field":"v","type":"quantitative","title":null}}},
{"data":{"name":"green"},"mark":{"type":"line","color":"#3CB371","strokeWidth":1.2},
 "encoding":{"x":{"field":"i","type":"quantitative","title":null},"y":{"field":"v","type":"quantitative","title":null}}},
{"data":{"name":"bseg"},"mark":{"type":"rule","color":"#1f2fe0","strokeWidth":2},
 "encoding":{"x":{"field":"a","type":"quantitative","title":null},"x2":{"field":"b"},"y":{"field":"p","type":"quantitative","title":null}}},
{"data":{"name":"gseg"},"mark":{"type":"rule","color":"#66BF8C","strokeWidth":2},
 "encoding":{"x":{"field":"a","type":"quantitative","title":null},"x2":{"field":"b"},"y":{"field":"p","type":"quantitative","title":null}}},
{"data":{"name":"trend"},"mark":{"type":"line","color":"#FDB678","strokeWidth":1,"clip":true},
 "encoding":{"x":{"field":"i","type":"quantitative","title":null},"y":{"field":"p","type":"quantitative","title":null},"detail":{"field":"id","type":"nominal"}}},
{"data":{"name":"levels"},"transform":[{"filter":"datum.t!=='b'"}],"mark":{"type":"point","shape":"M-1,-0.29H1V0.29H-1Z","size":2500,"filled":true,"opacity":1,"strokeWidth":0,"yOffset":4},
 "encoding":{"x":{"datum":288.15,"type":"quantitative"},"y":{"field":"p","type":"quantitative","title":null},
  "fill":{"field":"t","type":"nominal","legend":null,"scale":{"domain":["r","p","d","m","b"],"range":["#FF0000","#FFC0CB","#FF00FF","#FF00FF","#000000"]}}}},
{"data":{"name":"levels"},"transform":[{"filter":"datum.t==='b'"}],"mark":{"type":"point","shape":"M-1,-0.29H1V0.29H-1Z","size":2500,"filled":true,"opacity":1,"strokeWidth":0,"color":"#000000"},
 "encoding":{"x":{"datum":288.15,"type":"quantitative"},"y":{"field":"p","type":"quantitative","title":null}}},
{"data":{"name":"levels"},"transform":[{"filter":"datum.t!=='b'"}],"mark":{"type":"text","align":"left","baseline":"middle","font":"DejaVu Sans","fontSize":10,"color":"#ffffff","yOffset":4},
 "encoding":{"x":{"datum":285.1,"type":"quantitative"},"y":{"field":"p","type":"quantitative","title":null},"text":{"field":"p","type":"quantitative","format":".5f"}}},
{"data":{"name":"levels"},"transform":[{"filter":"datum.t==='b'"}],"mark":{"type":"text","align":"left","baseline":"middle","font":"DejaVu Sans","fontSize":10,"color":"#ffffff"},
 "encoding":{"x":{"datum":285.1,"type":"quantitative"},"y":{"field":"p","type":"quantitative","title":null},"text":{"field":"p","type":"quantitative","format":".5f"}}},
{"data":{"values":[{"s":"EURUSD,H4  1.23450 1.23484 1.23424 1.23436"}]},"mark":{"type":"text","align":"left","baseline":"alphabetic","font":"DejaVu Sans","fontSize":10.5,"color":"#000000"},
 "encoding":{"x":{"datum":2.45,"type":"quantitative"},"y":{"datum":1.24888,"type":"quantitative"},"text":{"field":"s"}}},
{"data":{"values":[{"s":"a"}]},"mark":{"type":"point","shape":"triangle-down","size":30,"filled":true,"color":"#000000"},
 "encoding":{"x":{"datum":0.85,"type":"quantitative"},"y":{"datum":1.24903,"type":"quantitative"}}},
{"data":{"values":[{"s":"b"}]},"mark":{"type":"point","shape":"triangle-down","size":70,"filled":true,"color":"#a8a8a8"},
 "encoding":{"x":{"datum":255.96,"type":"quantitative"},"y":{"datum":1.24925,"type":"quantitative"}}}
]
}
